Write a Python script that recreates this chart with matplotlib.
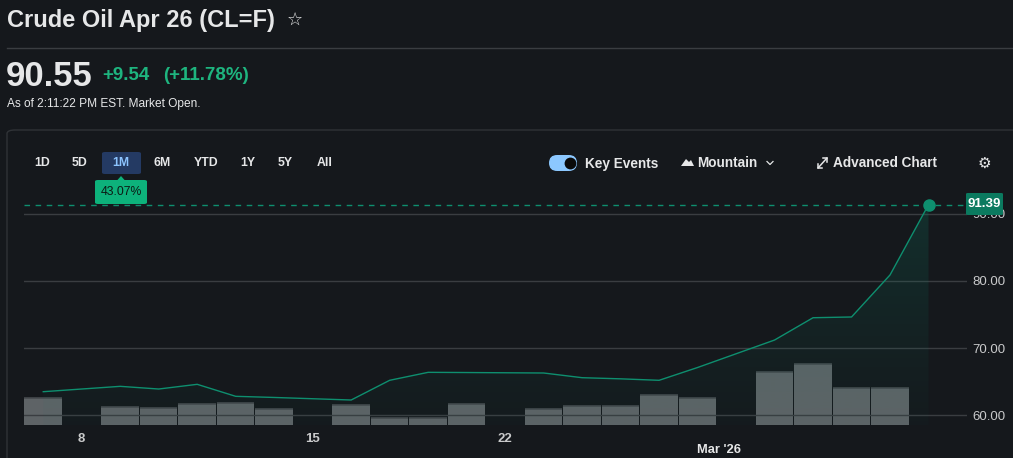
import numpy as np
import matplotlib
matplotlib.use("Agg")
import matplotlib.pyplot as plt
from matplotlib.patches import FancyBboxPatch, Polygon
from matplotlib.lines import Line2D
from matplotlib.transforms import blended_transform_factory

# ---------------- data ----------------
# slot index: one slot per trading day, weekend/holiday gaps take one slot
dates = ["Feb 6", "Feb 9", "Feb 10", "Feb 11", "Feb 12", "Feb 13",
         "Feb 17", "Feb 18", "Feb 19", "Feb 20",
         "Feb 23", "Feb 24", "Feb 25", "Feb 26", "Feb 27",
         "Mar 2", "Mar 3", "Mar 4", "Mar 5", "Mar 6"]
slots = [0, 2, 3, 4, 5, 6, 8, 9, 10, 11, 13, 14, 15, 16, 17, 19, 20, 21, 22, 23]
prices = [63.48, 64.28, 63.88, 64.58, 62.79, 62.62,
          62.24, 65.18, 66.37, 66.34,
          66.27, 65.57, 65.40, 65.18, 67.09,
          71.19, 74.52, 74.63, 80.90, 91.39]
volume_k = [267, 180, 167, 210, 220, 160,
            200, 70, 70, 210,
            160, 190, 190, 300, 270,
            530, 610, 370, 370, 0]
y_ticks = [60, 70, 80, 90]
x_tick_slots = [1, 7, 12]
x_tick_labels = ["8", "15", "22"]
month_label = "Mar '26"
month_slot = 17.55
last_price = 91.39
ranges = ["1D", "5D", "1M", "6M", "YTD", "1Y", "5Y", "All"]
range_change = "43.07%"

title = "Crude Oil Apr 26 (CL=F)"
quote = "90.55"
change = "+9.54"
change_pct = "(+11.78%)"
as_of = "As of 2:11:22 PM EST. Market Open."

# ---------------- style ----------------
W, H = 1013, 458
BG = "#15181c"
GRID = "#3a3d41"
TEXT = "#e6e7e8"
GREEN = "#1eb57f"
LINE = "#0e8f6f"
BAR = "#5e6366"
FONT = ["Liberation Sans", "DejaVu Sans"]
plt.rcParams["font.family"] = FONT

fig = plt.figure(figsize=(W / 100, H / 100), dpi=100, facecolor=BG)


def fx(x):
    return x / W


def fy(y):
    return 1 - y / H


# ---------------- header ----------------
fig.text(fx(7), fy(21), title, color=TEXT, fontsize=17, fontweight="bold",
         va="center", ha="left")
fig.text(fx(295), fy(20), "\u2606", color=TEXT, fontsize=13, va="center",
         ha="center", family="DejaVu Sans")
fig.add_artist(Line2D([fx(7), 1], [fy(48), fy(48)], color="#3a3d41", lw=1))
fig.text(fx(6), fy(77), quote, color=TEXT, fontsize=25, fontweight="bold",
         va="center", ha="left")
fig.text(fx(102), fy(76), change, color=GREEN, fontsize=13.5, fontweight="bold",
         va="center", ha="left")
fig.text(fx(163), fy(76), change_pct, color=GREEN, fontsize=13.5,
         fontweight="bold", va="center", ha="left")
fig.text(fx(7), fy(104), as_of, color=TEXT, fontsize=8.6, va="center", ha="left")

# card border
card = FancyBboxPatch((fx(7), fy(470)), fx(1040), fy(130) - fy(470),
                      boxstyle="round,pad=0,rounding_size=0.008",
                      transform=fig.transFigure, facecolor="none",
                      edgecolor="#303337", lw=1)
fig.add_artist(card)

# range buttons
range_x = [42, 80, 121, 162, 206, 248, 285, 325]
for lab, x in zip(ranges, range_x):
    if lab == "1M":
        fig.add_artist(FancyBboxPatch((fx(102), fy(174)), fx(39), fy(152) - fy(174),
                                      boxstyle="round,pad=0,rounding_size=0.003",
                                      transform=fig.transFigure,
                                      facecolor="#243a63", edgecolor="none"))
        fig.text(fx(x), fy(163), lab, color="#8cc4ff", fontsize=8.8,
                 fontweight="bold", va="center", ha="center")
    else:
        fig.text(fx(x), fy(163), lab, color=TEXT, fontsize=8.8,
                 fontweight="bold", va="center", ha="center")

# change badge
fig.add_artist(FancyBboxPatch((fx(95), fy(204)), fx(52), fy(180) - fy(204),
                              boxstyle="round,pad=0,rounding_size=0.003",
                              transform=fig.transFigure,
                              facecolor="#0db27b", edgecolor="none", zorder=5))
fig.add_artist(Polygon([[fx(117), fy(180.5)], [fx(125), fy(180.5)], [fx(121), fy(176)]],
                       closed=True, transform=fig.transFigure,
                       facecolor="#0db27b", edgecolor="none", zorder=5))
fig.text(fx(121), fy(192), range_change, color="#0c1a14", fontsize=8.8,
         va="center", ha="center", zorder=6)

# right toolbar
fig.add_artist(FancyBboxPatch((fx(549), fy(171)), fx(28), fy(155) - fy(171),
                              boxstyle="round,pad=0,rounding_size=0.008",
                              transform=fig.transFigure,
                              facecolor="#8cc8ff", edgecolor="none",
                              mutation_aspect=W / H))
fig.add_artist(Line2D([fx(569.5)], [fy(163)], marker="o", ms=8.5,
                      color="#0a0a0a", mec="none", lw=0))
fig.text(fx(585), fy(164), "Key Events", color=TEXT, fontsize=9.8,
         fontweight="bold", va="center", ha="left")
fig.add_artist(Polygon([[fx(681), fy(166)], [fx(686), fy(159)], [fx(689), fy(162)],
                        [fx(691), fy(160)], [fx(694), fy(166)]], closed=True,
                       transform=fig.transFigure, facecolor=TEXT, edgecolor="none"))
fig.text(fx(697), fy(163), "Mountain", color=TEXT, fontsize=9.8,
         fontweight="bold", va="center", ha="left")
fig.add_artist(Line2D([fx(767), fx(770), fx(773)], [fy(161.5), fy(164.5), fy(161.5)],
                      color=TEXT, lw=0.9))
# expand arrow icon
fig.add_artist(Line2D([fx(818), fx(827)], [fy(168), fy(158)], color=TEXT, lw=1.1))
fig.add_artist(Line2D([fx(818), fx(818), fx(822)], [fy(164), fy(168), fy(168)],
                      color=TEXT, lw=1.1))
fig.add_artist(Line2D([fx(823), fx(827), fx(827)], [fy(158), fy(158), fy(162)],
                      color=TEXT, lw=1.1))
fig.text(fx(833), fy(163), "Advanced Chart", color=TEXT, fontsize=9.8,
         fontweight="bold", va="center", ha="left")
fig.text(fx(984), fy(163), "\u2699", color=TEXT, fontsize=11, va="center",
         ha="center", family="DejaVu Sans")

# ---------------- chart ----------------
rect = [fx(24), fy(425), fx(967) - fx(24), fy(190) - fy(425)]
xlim = (-0.5, 24.0)
ylim = (58.51, 93.58)

axv = fig.add_axes(rect, facecolor="none")
axv.bar(slots, volume_k, width=0.975, color=BAR, edgecolor="none", zorder=2)
# dark top edge on bars
for s, v in zip(slots, volume_k):
    if v > 0:
        axv.plot([s - 0.4875, s + 0.4875], [v, v], color="#45494d", lw=1.2,
                 solid_capstyle="butt", zorder=3)
axv.set_xlim(*xlim)
axv.set_ylim(0, 2350)
axv.axis("off")

ax = fig.add_axes(rect, facecolor="none")
ax.set_xlim(*xlim)
ax.set_ylim(*ylim)
for v in y_ticks:
    ax.axhline(v, color=GRID, lw=1, zorder=1)

# gradient fill under the line
grad = np.linspace(0, 1, 256).reshape(-1, 1)
rgba = np.zeros((256, 1, 4))
rgba[..., 0] = 0.05
rgba[..., 1] = 0.50
rgba[..., 2] = 0.40
rgba[..., 3] = 0.03 + 0.22 * grad[:, :] ** 1.2
img = ax.imshow(rgba, extent=(xlim[0], xlim[1], ylim[0], ylim[1]), origin="lower",
                aspect="auto", zorder=1.5, interpolation="bilinear")
poly_xy = [(slots[0], ylim[0])] + list(zip(slots, prices)) + [(slots[-1], ylim[0])]
clip = Polygon(poly_xy, closed=True, transform=ax.transData, facecolor="none",
               edgecolor="none")
ax.add_patch(clip)
img.set_clip_path(clip)

ax.plot(slots, prices, color=LINE, lw=1.0, zorder=4)
ax.axhline(last_price, color=LINE, lw=1, ls=(0, (4, 4)), zorder=4,
           xmin=0, xmax=1)
ax.plot([slots[-1]], [prices[-1]], "o", ms=8, color=LINE, zorder=5)

ax.set_yticks(y_ticks)
ax.set_yticklabels([f"{v:.2f}" for v in y_ticks])
ax.yaxis.tick_right()
ax.tick_params(axis="y", length=0, pad=4, labelsize=9.5, labelcolor="#c9cacb")
ax.set_xticks(x_tick_slots)
ax.set_xticklabels(x_tick_labels)
ax.tick_params(axis="x", length=0, pad=6, labelsize=9.5, labelcolor="#c9cacb")
for lbl in ax.get_xticklabels():
    lbl.set_fontweight("bold")
for sp in ax.spines.values():
    sp.set_visible(False)

trans = blended_transform_factory(ax.transData, fig.transFigure)
ax.text(month_slot, fy(450), month_label, transform=trans, color=TEXT,
        fontsize=9.3, fontweight="bold", ha="center", va="center")

# last price badge
fig.add_artist(FancyBboxPatch((fx(966), fy(215)), fx(37), fy(193) - fy(215),
                              boxstyle="round,pad=0,rounding_size=0.002",
                              transform=fig.transFigure, facecolor="#0b7a5f",
                              edgecolor="none", zorder=10))
fig.text(fx(984.5), fy(204), f"{last_price:.2f}", color="white", fontsize=9.5,
         fontweight="bold", ha="center", va="center", zorder=11)

fig.savefig("out.png", dpi=100, facecolor=BG)
